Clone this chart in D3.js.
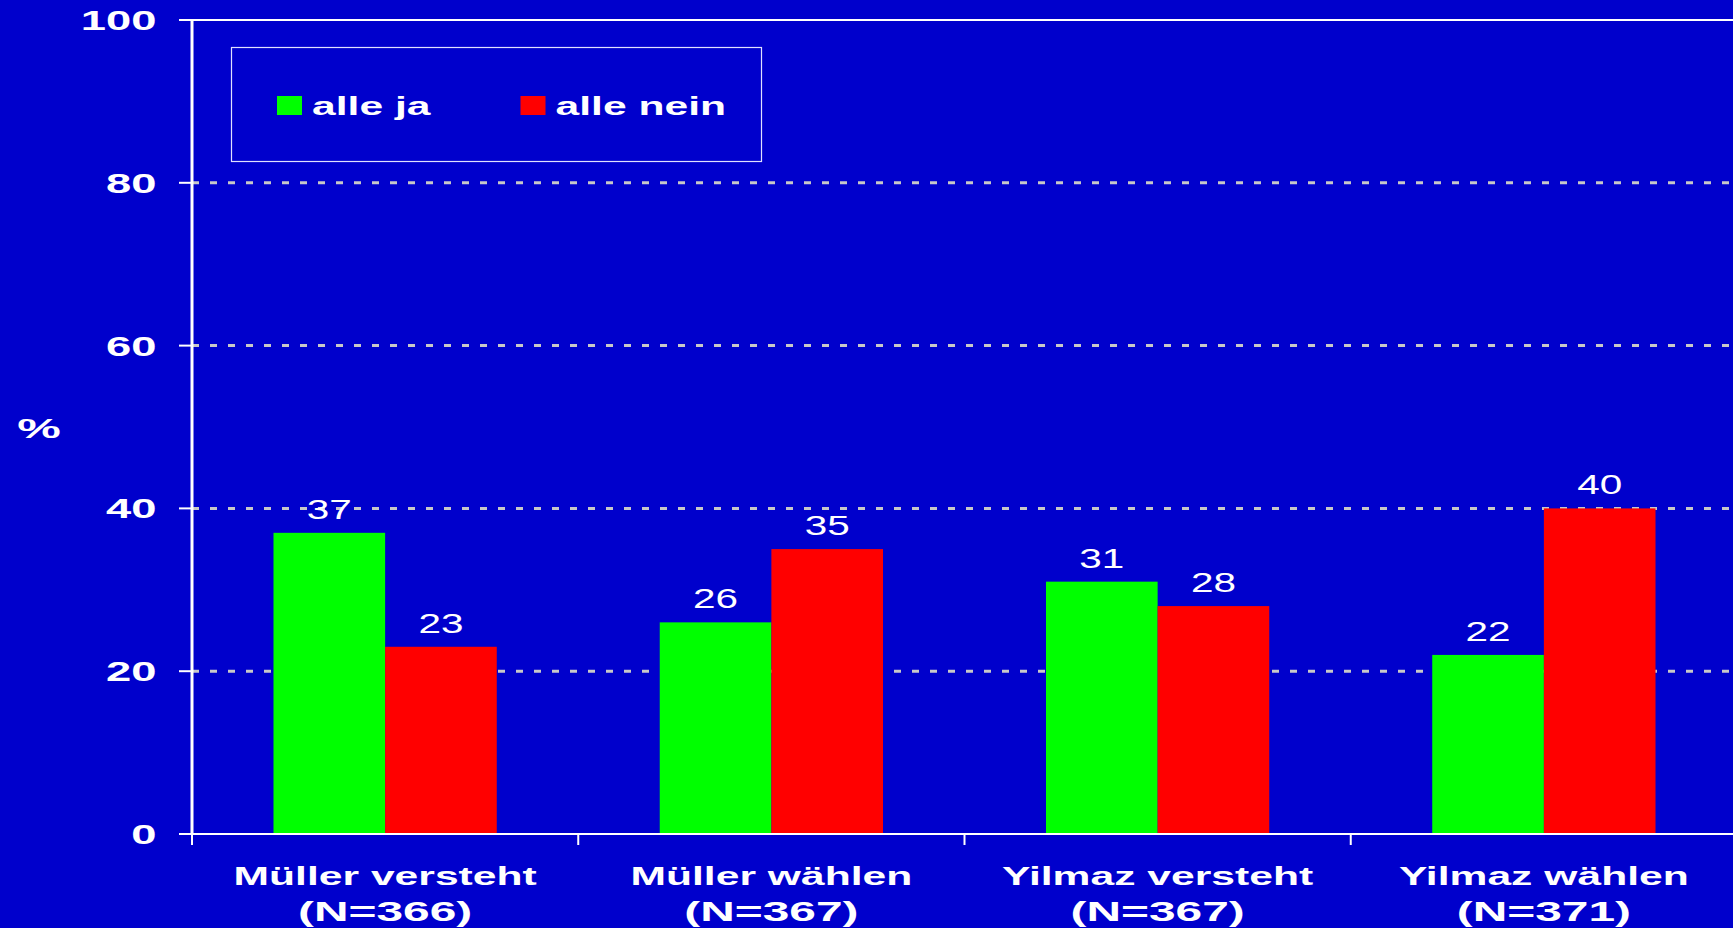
<!DOCTYPE html>
<html>
<head>
<meta charset="utf-8">
<script src="https://cdn.jsdelivr.net/npm/d3@7"></script>
<style>
  html, body { margin: 0; padding: 0; background: #0000cc; overflow: hidden; }
  text { font-family: "Liberation Sans", Arial, sans-serif; fill: #fff; }
</style>
</head>
<body>
<div id="chart"></div>
<script>
var categories = ["Müller versteht", "Müller wählen", "Yilmaz versteht", "Yilmaz wählen"];
var sampleSizes = ["(N=366)", "(N=367)", "(N=367)", "(N=371)"];
var seriesNames = ["alle ja", "alle nein"];
var alleJa = [37, 26, 31, 22];
var alleNein = [23, 35, 28, 40];
var yTicks = [0, 20, 40, 60, 80, 100];
var colors = ["#00ff00", "#ff0000"];

var width = 1733, height = 928;
var svg = d3.select("#chart")
  .append("svg")
  .attr("width", width)
  .attr("height", height);

svg.append("rect")
  .attr("width", width)
  .attr("height", height)
  .attr("fill", "#0000cc");

var left = 192;

var x0 = d3.scaleBand()
    .domain(categories)
    .range([left, 1737]);

var x1 = d3.scaleBand()
    .domain(seriesNames)
    .range([0, x0.bandwidth()])
    .paddingOuter(0.73);

var y = d3.scaleLinear()
    .domain([0, 100])
    .range([834, 20]);

// stretched text helper (the original is widened horizontally)
function stretched(g, tx, ty, s) {
  return "translate(" + tx + "," + ty + ") scale(" + s + ",1)";
}

// dashed gridlines
svg.append("g")
  .selectAll("line")
  .data(yTicks.filter(function(d) { return d > 0 && d < 100; }))
  .enter().append("line")
    .attr("x1", left)
    .attr("x2", width)
    .attr("y1", function(d) { return y(d); })
    .attr("y2", function(d) { return y(d); })
    .attr("stroke", "#c8c8c8")
    .attr("stroke-width", 3)
    .attr("stroke-dasharray", "7,11");

// top border of plot area
svg.append("line")
  .attr("x1", left - 13).attr("x2", width)
  .attr("y1", y(100)).attr("y2", y(100))
  .attr("stroke", "#fff").attr("stroke-width", 2);

// bars
var rows = categories.map(function(c, i) {
  return { cat: c, values: [alleJa[i], alleNein[i]] };
});

var group = svg.append("g")
  .selectAll("g")
  .data(rows)
  .enter().append("g")
    .attr("transform", function(d) { return "translate(" + x0(d.cat) + ",0)"; });

group.selectAll("rect")
  .data(function(d) { return d.values.map(function(v, j) { return { key: seriesNames[j], v: v, j: j }; }); })
  .enter().append("rect")
    .attr("x", function(d) { return x1(d.key); })
    .attr("y", function(d) { return y(d.v); })
    .attr("width", x1.bandwidth())
    .attr("height", function(d) { return y(0) - y(d.v); })
    .attr("fill", function(d) { return colors[d.j]; });

group.selectAll("text")
  .data(function(d) { return d.values.map(function(v, j) { return { key: seriesNames[j], v: v }; }); })
  .enter().append("text")
    .attr("text-anchor", "middle")
    .attr("font-size", 28.5)
    .attr("transform", function(d) {
      return stretched(null, x1(d.key) + x1.bandwidth() / 2, y(d.v) - 14, 1.42);
    })
    .text(function(d) { return d.v; });

// y axis
svg.append("line")
  .attr("x1", left).attr("x2", left)
  .attr("y1", y(100) - 1).attr("y2", y(0) + 1)
  .attr("stroke", "#fff").attr("stroke-width", 3);

svg.append("g")
  .selectAll("line")
  .data(yTicks)
  .enter().append("line")
    .attr("x1", left - 13).attr("x2", left)
    .attr("y1", function(d) { return y(d); })
    .attr("y2", function(d) { return y(d); })
    .attr("stroke", "#fff").attr("stroke-width", 2);

svg.append("g")
  .selectAll("text")
  .data(yTicks)
  .enter().append("text")
    .attr("text-anchor", "end")
    .attr("font-weight", "bold")
    .attr("font-size", 28)
    .attr("transform", function(d) { return stretched(null, 156.5, y(d) + 10, 1.62); })
    .text(function(d) { return d; });

svg.append("text")
  .attr("text-anchor", "middle")
  .attr("font-weight", "bold")
  .attr("font-size", 28)
  .attr("transform", stretched(null, 39, 438, 1.75))
  .text("%");

// x axis
svg.append("line")
  .attr("x1", left - 13).attr("x2", width)
  .attr("y1", y(0)).attr("y2", y(0))
  .attr("stroke", "#fff").attr("stroke-width", 2);

svg.append("g")
  .selectAll("line")
  .data(categories)
  .enter().append("line")
    .attr("x1", function(d) { return x0(d); })
    .attr("x2", function(d) { return x0(d); })
    .attr("y1", y(0)).attr("y2", y(0) + 11)
    .attr("stroke", "#fff").attr("stroke-width", 2);

var catLabel = svg.append("g")
  .selectAll("g")
  .data(categories)
  .enter().append("g");

catLabel.append("text")
  .attr("text-anchor", "middle")
  .attr("font-weight", "bold")
  .attr("font-size", 26)
  .attr("transform", function(d) { return stretched(null, x0(d) + x0.bandwidth() / 2, 885, 1.64); })
  .text(function(d) { return d; });

catLabel.append("text")
  .attr("text-anchor", "middle")
  .attr("font-weight", "bold")
  .attr("font-size", 27.5)
  .attr("transform", function(d, i) { return stretched(null, x0(d) + x0.bandwidth() / 2, 921, 1.74); })
  .text(function(d, i) { return sampleSizes[i]; });

// legend
var legend = svg.append("g");
legend.append("rect")
  .attr("x", 231.5).attr("y", 47.5)
  .attr("width", 530).attr("height", 114)
  .attr("fill", "none")
  .attr("stroke", "#e0e0ff").attr("stroke-width", 1.2);

var legendX = [277, 520.5];
var item = legend.selectAll("g")
  .data(seriesNames)
  .enter().append("g");

item.append("rect")
  .attr("x", function(d, i) { return legendX[i]; })
  .attr("y", 96)
  .attr("width", 25)
  .attr("height", 19)
  .attr("fill", function(d, i) { return colors[i]; });

item.append("text")
  .attr("font-weight", "bold")
  .attr("font-size", 26)
  .attr("transform", function(d, i) { return stretched(null, legendX[i] + 35, 115, 1.64); })
  .text(function(d) { return d; });
</script>
</body>
</html>
